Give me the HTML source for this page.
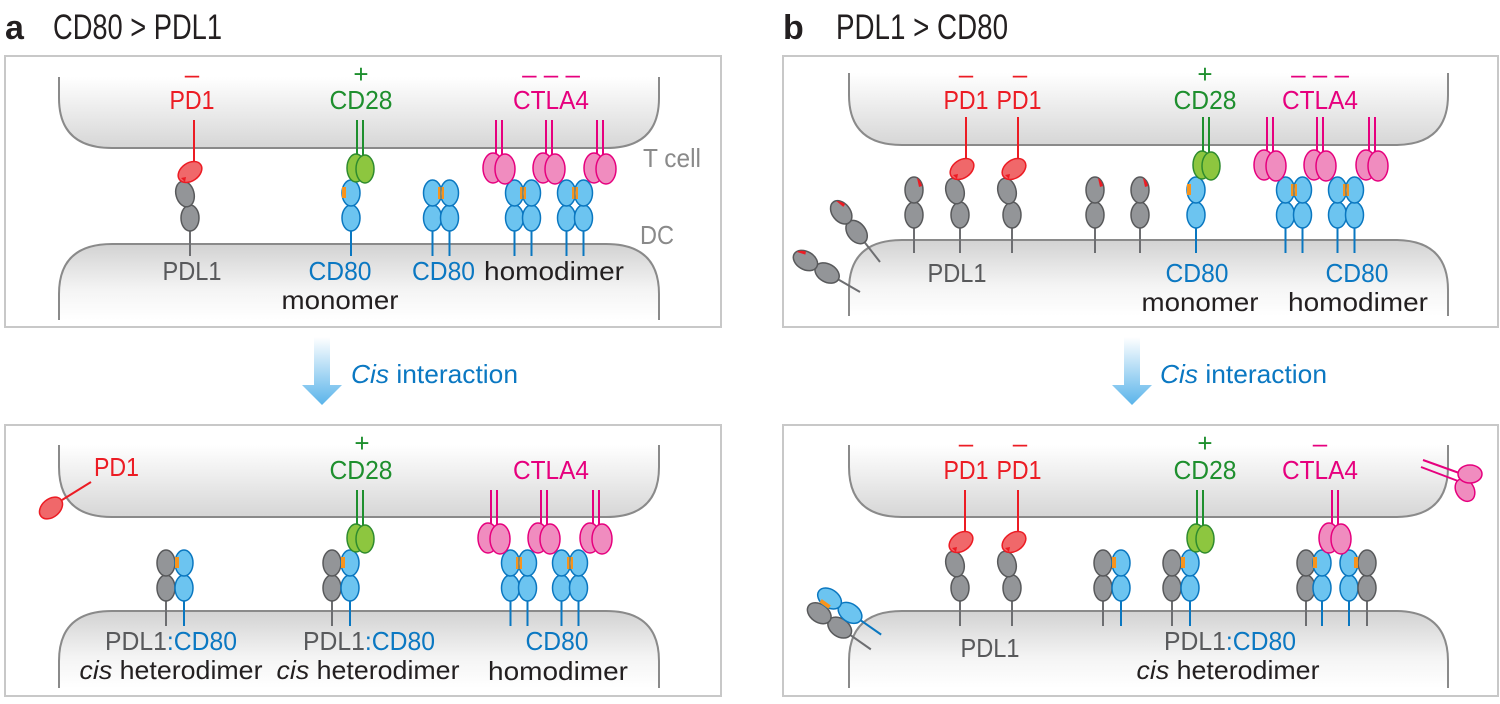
<!DOCTYPE html>
<html><head><meta charset="utf-8"><style>
html,body{margin:0;padding:0;background:#fff}
svg{display:block}
text{font-family:"Liberation Sans",sans-serif;font-size:26px}
</style></head><body>
<svg width="1500" height="704" viewBox="0 0 1500 704" xmlns="http://www.w3.org/2000/svg">
<defs>
<linearGradient id="tg" x1="0" y1="0" x2="0" y2="1"><stop offset="0" stop-color="#ffffff"/><stop offset="1" stop-color="#d6d6d6"/></linearGradient>
<linearGradient id="dg" x1="0" y1="0" x2="0" y2="1"><stop offset="0" stop-color="#d2d2d2"/><stop offset="0.6" stop-color="#f4f4f4"/><stop offset="1" stop-color="#ffffff"/></linearGradient>
<linearGradient id="ag" x1="0" y1="0" x2="0" y2="1"><stop offset="0" stop-color="#ffffff"/><stop offset="1" stop-color="#5ab4ea"/></linearGradient>
<g id="pdl"><line x1="0" y1="-25" x2="0" y2="0" stroke="#6d6e71" stroke-width="2"/><ellipse cx="0" cy="-38" rx="9" ry="13" fill="#939598" stroke="#58595b" stroke-width="1.5"/><ellipse cx="0" cy="-63" rx="9" ry="13" fill="#939598" stroke="#58595b" stroke-width="1.5"/></g>
<g id="pdlr"><use href="#pdl"/><path d="M3,-75 a9,13 0 0 1 5,8 l-3,1 z" fill="#ec1c24"/></g>
<g id="pdlb"><line x1="0" y1="-25" x2="0" y2="0" stroke="#6d6e71" stroke-width="2"/><ellipse cx="0" cy="-38" rx="9" ry="13" fill="#939598" stroke="#58595b" stroke-width="1.5"/><ellipse cx="-5" cy="-62" rx="9" ry="13" transform="rotate(-15 -5 -62)" fill="#939598" stroke="#58595b" stroke-width="1.5"/></g>
<g id="cd"><line x1="0" y1="-25" x2="0" y2="0" stroke="#0a77c0" stroke-width="2"/><ellipse cx="0" cy="-38" rx="9" ry="13" fill="#6cc4f0" stroke="#0a77c0" stroke-width="1.5"/><ellipse cx="0" cy="-63" rx="9" ry="13" fill="#6cc4f0" stroke="#0a77c0" stroke-width="1.5"/></g>
<g id="cdo"><use href="#cd"/><rect x="-9" y="-69" width="4" height="11" fill="#f7941d"/></g>
<g id="dim"><use href="#cd" x="-8.5"/><use href="#cd" x="8.5"/><rect x="-3" y="-69" width="2.5" height="12" fill="#f7941d"/><rect x="0.5" y="-69" width="2.5" height="12" fill="#f7941d"/></g>
<g id="het"><use href="#pdl" x="-9"/><use href="#cd" x="9"/><rect x="0" y="-69" width="4" height="11" fill="#f7941d"/></g>
<g id="cd28"><line x1="-3" y1="-136" x2="-3" y2="-101" stroke="#1e8f2e" stroke-width="2"/><line x1="3" y1="-136" x2="3" y2="-101" stroke="#1e8f2e" stroke-width="2"/><ellipse cx="-4" cy="-88" rx="9" ry="14" fill="#8dc63f" stroke="#2e8b2e" stroke-width="1.5"/><ellipse cx="5" cy="-87" rx="9" ry="14" fill="#8dc63f" stroke="#2e8b2e" stroke-width="1.5"/></g>
<g id="ctla"><line x1="-3" y1="-136" x2="-3" y2="-101" stroke="#e6007e" stroke-width="2"/><line x1="3" y1="-136" x2="3" y2="-101" stroke="#e6007e" stroke-width="2"/><ellipse cx="-6" cy="-88" rx="10" ry="15" fill="#f08cbf" stroke="#e6007e" stroke-width="1.5"/><ellipse cx="6" cy="-87" rx="10" ry="15" fill="#f08cbf" stroke="#e6007e" stroke-width="1.5"/></g>
<g id="pd1"><line x1="0" y1="-136" x2="0" y2="-95" stroke="#ec1c24" stroke-width="2"/><ellipse cx="-4" cy="-84" rx="13" ry="9" transform="rotate(-35 -4 -84)" fill="#f0686a" stroke="#ec1c24" stroke-width="1.5"/><path d="M-13,-78 l5,-1 l-1,5 z" fill="#ec1c24"/></g>
<g id="arrow"><path d="M-8,0 L8,0 L8,48 L20,48 L0,68 L-20,48 L-8,48 Z" fill="url(#ag)"/></g>
</defs>

<!-- titles -->
<text x="5" y="39" style="font-size:34px;font-weight:bold" fill="#231f20">a</text>
<text x="53" y="39" style="font-size:35px" fill="#231f20" textLength="169" lengthAdjust="spacingAndGlyphs">CD80 &gt; PDL1</text>
<text x="783" y="39" style="font-size:34px;font-weight:bold" fill="#231f20">b</text>
<text x="836" y="39" style="font-size:35px" fill="#231f20" textLength="172" lengthAdjust="spacingAndGlyphs">PDL1 &gt; CD80</text>

<!-- boxes -->
<rect x="5" y="56" width="716" height="271" fill="#fff" stroke="#c8c8c8" stroke-width="2"/>
<rect x="783" y="56" width="715" height="271" fill="#fff" stroke="#c8c8c8" stroke-width="2"/>
<rect x="5" y="425" width="716" height="271" fill="#fff" stroke="#c8c8c8" stroke-width="2"/>
<rect x="783" y="425" width="715" height="271" fill="#fff" stroke="#c8c8c8" stroke-width="2"/>

<!-- membranes -->
<g stroke="#8a8a8a" stroke-width="2">
<path d="M59,77 L59,98 Q59,148 112,148 L606,148 Q659,148 659,98 L659,77" fill="url(#tg)"/>
<path d="M59,320 L59,294 Q59,244 112,244 L606,244 Q659,244 659,294 L659,320" fill="url(#dg)"/>
<path d="M849,73 L849,95 Q849,145 902,145 L1395,145 Q1448,145 1448,95 L1448,73" fill="url(#tg)"/>
<path d="M849,316 L849,290 Q849,240 902,240 L1395,240 Q1448,240 1448,290 L1448,316" fill="url(#dg)"/>
<path d="M59,445 L59,467 Q59,517 112,517 L606,517 Q659,517 659,467 L659,445" fill="url(#tg)"/>
<path d="M59,688 L59,661 Q59,611 112,611 L606,611 Q659,611 659,661 L659,688" fill="url(#dg)"/>
<path d="M849,445 L849,467 Q849,517 902,517 L1395,517 Q1448,517 1448,467 L1448,445" fill="url(#tg)"/>
<path d="M849,688 L849,661 Q849,611 902,611 L1395,611 Q1448,611 1448,661 L1448,688" fill="url(#dg)"/>
</g>

<!-- arrows -->
<use href="#arrow" x="322" y="337"/>
<text x="351" y="383" fill="#0b78c2" textLength="167" lengthAdjust="spacingAndGlyphs"><tspan font-style="italic">Cis</tspan> interaction</text>
<use href="#arrow" x="1132" y="337"/>
<text x="1160" y="383" fill="#0b78c2" textLength="167" lengthAdjust="spacingAndGlyphs"><tspan font-style="italic">Cis</tspan> interaction</text>

<g lengthAdjust="spacingAndGlyphs">
<!-- ===== panel a top ===== -->
<text x="192" y="83" text-anchor="middle" fill="#ec1c24">–</text>
<text x="192" y="109" text-anchor="middle" fill="#ec1c24" textLength="45" lengthAdjust="spacingAndGlyphs">PD1</text>
<text x="361" y="83" text-anchor="middle" fill="#1e8f2e">+</text>
<text x="361" y="109" text-anchor="middle" fill="#1e8f2e" textLength="63" lengthAdjust="spacingAndGlyphs">CD28</text>
<text x="551" y="83" text-anchor="middle" fill="#e6007e">–  –  –</text>
<text x="551" y="109" text-anchor="middle" fill="#e6007e" textLength="76" lengthAdjust="spacingAndGlyphs">CTLA4</text>
<text x="643" y="167" fill="#8a8a8a" textLength="58" lengthAdjust="spacingAndGlyphs">T cell</text>
<text x="640" y="244" fill="#8a8a8a" textLength="34" lengthAdjust="spacingAndGlyphs">DC</text>
</g>

<use href="#pdlb" x="190" y="256"/>
<use href="#pd1" x="194" y="256"/>
<use href="#cdo" x="351" y="256"/>
<use href="#cd28" x="360" y="256"/>
<use href="#dim" x="441" y="256"/>
<use href="#dim" x="523" y="256"/>
<use href="#dim" x="575" y="256"/>
<use href="#ctla" x="499" y="256"/>
<use href="#ctla" x="549" y="256"/>
<use href="#ctla" x="600" y="256"/>

<text x="192" y="280" text-anchor="middle" fill="#58595b" textLength="59" lengthAdjust="spacingAndGlyphs">PDL1</text>
<text x="340" y="280" text-anchor="middle" fill="#0b78c2" textLength="63" lengthAdjust="spacingAndGlyphs">CD80</text>
<text x="340" y="309" text-anchor="middle" fill="#231f20" textLength="117" lengthAdjust="spacingAndGlyphs">monomer</text>
<text x="412" y="280" fill="#0b78c2" textLength="63" lengthAdjust="spacingAndGlyphs">CD80</text>
<text x="484" y="280" fill="#231f20" textLength="140" lengthAdjust="spacingAndGlyphs">homodimer</text>

<!-- ===== panel b top ===== -->
<text x="966" y="83" text-anchor="middle" fill="#ec1c24">–</text>
<text x="1020" y="83" text-anchor="middle" fill="#ec1c24">–</text>
<text x="966" y="109" text-anchor="middle" fill="#ec1c24" textLength="45" lengthAdjust="spacingAndGlyphs">PD1</text>
<text x="1019" y="109" text-anchor="middle" fill="#ec1c24" textLength="45" lengthAdjust="spacingAndGlyphs">PD1</text>
<text x="1205" y="83" text-anchor="middle" fill="#1e8f2e">+</text>
<text x="1205" y="109" text-anchor="middle" fill="#1e8f2e" textLength="63" lengthAdjust="spacingAndGlyphs">CD28</text>
<text x="1320" y="83" text-anchor="middle" fill="#e6007e">–  –  –</text>
<text x="1320" y="109" text-anchor="middle" fill="#e6007e" textLength="76" lengthAdjust="spacingAndGlyphs">CTLA4</text>

<use href="#pdlr" x="914" y="253"/>
<use href="#pdlb" x="960" y="253"/>
<use href="#pd1" x="966" y="253"/>
<use href="#pdlb" x="1012" y="253"/>
<use href="#pd1" x="1018" y="253"/>
<use href="#pdlr" x="1095" y="253"/>
<use href="#pdlr" x="1140" y="253"/>
<use href="#pdlr" transform="translate(880,262) rotate(-38)"/>
<use href="#pdlr" transform="translate(860,292) rotate(-60)"/>
<use href="#cdo" x="1196" y="253"/>
<use href="#cd28" x="1206" y="253"/>
<use href="#dim" x="1294" y="253"/>
<use href="#dim" x="1346" y="253"/>
<use href="#ctla" x="1270" y="253"/>
<use href="#ctla" x="1320" y="253"/>
<use href="#ctla" x="1372" y="253"/>

<text x="957" y="282" text-anchor="middle" fill="#58595b" textLength="59" lengthAdjust="spacingAndGlyphs">PDL1</text>
<text x="1197" y="282" text-anchor="middle" fill="#0b78c2" textLength="63" lengthAdjust="spacingAndGlyphs">CD80</text>
<text x="1200" y="311" text-anchor="middle" fill="#231f20" textLength="117" lengthAdjust="spacingAndGlyphs">monomer</text>
<text x="1357" y="282" text-anchor="middle" fill="#0b78c2" textLength="63" lengthAdjust="spacingAndGlyphs">CD80</text>
<text x="1358" y="311" text-anchor="middle" fill="#231f20" textLength="140" lengthAdjust="spacingAndGlyphs">homodimer</text>

<!-- ===== panel a bottom ===== -->
<text x="94" y="476" fill="#ec1c24" textLength="45" lengthAdjust="spacingAndGlyphs">PD1</text>
<line x1="91" y1="482" x2="62" y2="500" stroke="#ec1c24" stroke-width="2"/>
<ellipse cx="51" cy="508" rx="13" ry="9" transform="rotate(-40 51 508)" fill="#f0686a" stroke="#ec1c24" stroke-width="1.5"/>
<text x="362" y="452" text-anchor="middle" fill="#1e8f2e">+</text>
<text x="361" y="479" text-anchor="middle" fill="#1e8f2e" textLength="63" lengthAdjust="spacingAndGlyphs">CD28</text>
<text x="551" y="479" text-anchor="middle" fill="#e6007e" textLength="76" lengthAdjust="spacingAndGlyphs">CTLA4</text>

<use href="#het" x="175" y="626"/>
<use href="#het" x="341" y="626"/>
<use href="#cd28" x="360" y="626"/>
<use href="#dim" x="519" y="626"/>
<use href="#dim" x="570" y="626"/>
<use href="#ctla" x="494" y="626"/>
<use href="#ctla" x="544" y="626"/>
<use href="#ctla" x="596" y="626"/>

<text x="171" y="650" text-anchor="middle" textLength="132" lengthAdjust="spacingAndGlyphs"><tspan fill="#58595b">PDL1</tspan><tspan fill="#0b78c2">:CD80</tspan></text>
<text x="369" y="650" text-anchor="middle" textLength="132" lengthAdjust="spacingAndGlyphs"><tspan fill="#58595b">PDL1</tspan><tspan fill="#0b78c2">:CD80</tspan></text>
<text x="171" y="679" text-anchor="middle" fill="#231f20" textLength="183" lengthAdjust="spacingAndGlyphs"><tspan font-style="italic">cis</tspan> heterodimer</text>
<text x="368" y="679" text-anchor="middle" fill="#231f20" textLength="183" lengthAdjust="spacingAndGlyphs"><tspan font-style="italic">cis</tspan> heterodimer</text>
<text x="557" y="650" text-anchor="middle" fill="#0b78c2" textLength="63" lengthAdjust="spacingAndGlyphs">CD80</text>
<text x="558" y="680" text-anchor="middle" fill="#231f20" textLength="140" lengthAdjust="spacingAndGlyphs">homodimer</text>

<!-- ===== panel b bottom ===== -->
<text x="966" y="452" text-anchor="middle" fill="#ec1c24">–</text>
<text x="1020" y="452" text-anchor="middle" fill="#ec1c24">–</text>
<text x="966" y="479" text-anchor="middle" fill="#ec1c24" textLength="45" lengthAdjust="spacingAndGlyphs">PD1</text>
<text x="1019" y="479" text-anchor="middle" fill="#ec1c24" textLength="45" lengthAdjust="spacingAndGlyphs">PD1</text>
<text x="1205" y="452" text-anchor="middle" fill="#1e8f2e">+</text>
<text x="1205" y="479" text-anchor="middle" fill="#1e8f2e" textLength="63" lengthAdjust="spacingAndGlyphs">CD28</text>
<text x="1320" y="452" text-anchor="middle" fill="#e6007e">–</text>
<text x="1320" y="479" text-anchor="middle" fill="#e6007e" textLength="76" lengthAdjust="spacingAndGlyphs">CTLA4</text>

<use href="#pdlb" x="960" y="626"/>
<use href="#pd1" x="965" y="626"/>
<use href="#pdlb" x="1012" y="626"/>
<use href="#pd1" x="1018" y="626"/>
<use href="#het" x="1112" y="626"/>
<use href="#het" x="1181" y="626"/>
<use href="#cd28" x="1200" y="626"/>
<use href="#pdl" x="1306" y="626"/>
<use href="#cd" x="1322" y="626"/>
<rect x="1313" y="557" width="4" height="11" fill="#f7941d"/>
<use href="#cd" x="1349" y="626"/>
<use href="#pdl" x="1367" y="626"/>
<rect x="1354" y="557" width="4" height="11" fill="#f7941d"/>
<use href="#ctla" x="1335" y="626"/>
<!-- free heterodimer -->
<g transform="translate(876,642) rotate(-55)"><use href="#pdl" x="-9"/><use href="#cd" x="9"/><rect x="0" y="-69" width="4" height="11" fill="#f7941d"/></g>
<!-- free CTLA4 -->
<line x1="1423" y1="460" x2="1462" y2="474" stroke="#e6007e" stroke-width="2"/>
<line x1="1421" y1="467" x2="1458" y2="481" stroke="#e6007e" stroke-width="2"/>
<ellipse cx="1465" cy="490" rx="9" ry="12" transform="rotate(-30 1465 490)" fill="#f08cbf" stroke="#e6007e" stroke-width="1.5"/>
<ellipse cx="1470" cy="474" rx="12" ry="9" fill="#f08cbf" stroke="#e6007e" stroke-width="1.5"/>

<text x="990" y="657" text-anchor="middle" fill="#58595b" textLength="59" lengthAdjust="spacingAndGlyphs">PDL1</text>
<text x="1230" y="650" text-anchor="middle" textLength="132" lengthAdjust="spacingAndGlyphs"><tspan fill="#58595b">PDL1</tspan><tspan fill="#0b78c2">:CD80</tspan></text>
<text x="1228" y="679" text-anchor="middle" fill="#231f20" textLength="183" lengthAdjust="spacingAndGlyphs"><tspan font-style="italic">cis</tspan> heterodimer</text>
</svg>
</body></html>
